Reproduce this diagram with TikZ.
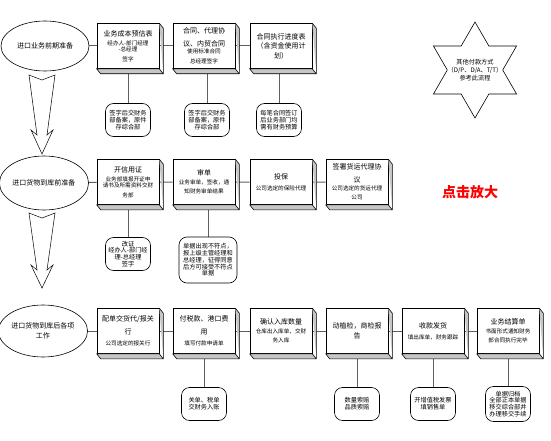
\documentclass[tikz,border=0pt]{standalone}
\usepackage{fontspec}
\setmainfont{Noto Sans CJK SC}
\usetikzlibrary{shapes.geometric,backgrounds}
\newcommand\tsz{\fontsize{7}{9.5}\selectfont}
\newcommand\ssz{\fontsize{5.6}{6.5}\selectfont}
\newcommand\nsz{\fontsize{6.2}{6.8}\selectfont}

\begin{document}
\begin{tikzpicture}[x=1pt, y=-1pt,
    stage/.style={ellipse, draw, line width=0.6pt, minimum width=88, minimum height=52, inner sep=0pt, align=center, font=\tsz},
    card/.style={draw, fill=white, line width=0.6pt, minimum width=62, minimum height=45, text width=60, inner sep=1pt, align=center, font=\tsz},
    note/.style={draw, rounded corners=8pt, line width=0.6pt, minimum width=45, minimum height=33, inner sep=1pt, align=center, font=\nsz},
    side/.style={draw, fill=gray!45, line width=0.6pt},
    link/.style={draw=gray!75!black, line width=1pt},
    bigarrow/.style={draw, fill=white, line width=0.5pt}]
    \useasboundingbox (0,0) rectangle (551,441);

    % Stages
    \node[stage, minimum height=50] (e1) at (45,46) {进口业务前期准备};
    \node[stage, minimum height=54] (e2) at (44,183) {进口货物到库前准备};
    \node[stage] (e3) at (43,331) {进口货物到库后各项\\工作};

    % Row 1
    \node[card] (b11) at (128,46) {业务成本预估表\\[2.5pt]\ssz 经办人-部门经理\\-总经理\\签字};
    \node[card] (b12) at (204,46) {合同、代理协\\[3pt]议、内贸合同\\[1pt]\ssz 使用标准合同\\总经理签字};
    \node[card] (b13) at (281,46) {合同执行进度表\\（含资金使用计\\划）};
    \node[note] (n11) at (128,120) {签字后交财务\\部备案，原件\\存综合部};
    \node[note] (n12) at (207,120) {签字后交财务\\部备案，原件\\存综合部};
    \node[note] (n13) at (279,120) {每笔合同签订\\后业务部门均\\需有财务预算};

    % Other payment terms
    \node[star, star points=6, star point ratio=1.732, minimum size=96, draw, line width=0.6pt, inner sep=0pt] (pay) at (475,70) {};
    \node[font=\nsz, align=center] (paytext) at (pay) {其他付款方式\\[1pt]（D/P、D/A、T/T）\\[1pt]参考此流程};

    % Row 2
    \node[card] (b21) at (128,182) {开信用证\\[2.5pt]\ssz 业务部填报开证申\\请书及所需资料交财\\务部};
    \node[card] (b22) at (204,182) {审单\\[2.5pt]\ssz 业务审单，签收，通\\知财务审单结果};
    \node[card] (b23) at (281,182) {投保\\[1.5pt]\ssz 公司选定的保险代理};
    \node[card] (b24) at (357,182) {签署货运代理协\\[3pt]议\\[1.5pt]\ssz 公司选定的货运代理\\公司};
    \node[note] (n21) at (128,254) {改证\\经办人-部门经\\理-总经理\\签字};
    \node[note, minimum width=58, minimum height=46] (n22) at (208,260) {单据出现不符点，\\报上级主管经理和\\总经理，征得同意\\后方可接受不符点\\单据};
    \node[text=red, font=\fontsize{14}{16}\selectfont\bfseries] (zoomin) at (470,192) {点击放大};

    % Row 3
    \node[card] (b31) at (128,331) {配单交货代/报关\\[3pt]行\\[1.5pt]\ssz 公司选定的报关行};
    \node[card] (b32) at (204,331) {付税款、港口费\\[3pt]用\\[1.5pt]\ssz 填写付款申请单};
    \node[card] (b33) at (281,331) {确认入库数量\\[2.5pt]\ssz 仓库出入库单，交财\\务入库};
    \node[card] (b34) at (357,331) {动植检，商检报\\告};
    \node[card] (b35) at (433,331) {收款发货\\[1.5pt]\ssz 填出库单，财务跟踪};
    \node[card] (b36) at (508,331) {业务结算单\\[2.5pt]\ssz 书面形式通知财务\\部合同执行完毕};
    \node[note] (n32) at (204,404) {关单、税单\\交财务入账};
    \node[note] (n34) at (357,404) {数量索赔\\品质索赔};
    \node[note] (n35) at (433,404) {开增值税发票\\填销售单};
    \node[note, minimum height=35] (n36) at (508,404) {单据归档\\全部正本单据\\移交综合部并\\办理移交手续};

    % 3D sides
    \foreach \b in {b11,b12,b13,b21,b22,b23,b24,b31,b32,b33,b34,b35,b36}
        \draw[side] (\b.north east) -- ++(4,5) -- ([shift={(4,5)}]\b.south east) -- ([shift={(4,5)}]\b.south west) -- (\b.south west) -- (\b.south east) -- ++(4,5) (\b.south east) -- cycle;

    % Connections
    \begin{scope}[on background layer]
        \draw[link] (e1) -- (b11) (b11) -- (b12) (b12) -- (b13);
        \draw[link] (b11) -- (n11) (b12.south -| n12) -- (n12) (b13.south -| n13) -- (n13);
        \draw[link] (e2) -- (b21) (b21) -- (b22) (b22) -- (b23) (b23) -- (b24);
        \draw[link] (b21) -- (n21) (b22.south -| n22) -- (n22);
        \draw[link] (e3) -- (b31) (b31) -- (b32) (b32) -- (b33) (b33) -- (b34) (b34) -- (b35) (b35) -- (b36);
        \draw[link] (b32) -- (n32) (b34) -- (n34) (b35) -- (n35) (b36) -- (n36);
    \end{scope}

    % Stage arrows
    \draw[bigarrow, shift={(42,75)}] (-13,0) -- (0,5) -- (13,0) -- (5,60) -- (11,55) -- (0,79) -- (-11,55) -- (-5,60) -- cycle;
    \draw[bigarrow, shift={(42,213)}] (-13,0) -- (0,5) -- (13,0) -- (5,57) -- (11,52) -- (0,75) -- (-11,52) -- (-5,57) -- cycle;
\end{tikzpicture}
\end{document}
